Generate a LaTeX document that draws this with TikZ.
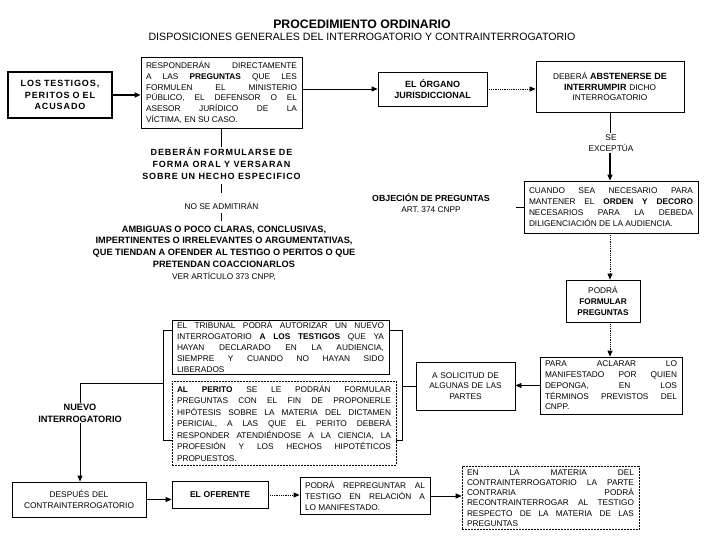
\documentclass[tikz,border=0pt]{standalone}
\usepackage{fontspec}
\setmainfont{Liberation Sans}
\newfontfamily\lsfont[LetterSpace=10]{Liberation Sans}
\usetikzlibrary{arrows.meta}
\newcommand{\hb}[1]{{\fontsize{9}{10.8}\selectfont\bfseries #1}}
\begin{document}
\begin{tikzpicture}[x=1pt,y=-1pt,
  bx/.style={draw, line width=0.8pt, inner xsep=5pt, inner ysep=1pt, font=\fontsize{8.3}{10.8}\selectfont},
  jst/.style={align=justify, execute at begin node={\spaceskip=2.3pt plus 60pt\xspaceskip=\spaceskip\tolerance=10000\hbadness=10000\hyphenpenalty=10000}},
  ctr/.style={align=center},
  dbx/.style={bx, dash pattern=on 2pt off 1pt, line width=0.6pt},
  arr/.style={-{Triangle[length=6pt,width=5pt]}, line width=0.8pt},
  darr/.style={arr, densely dotted},
  ln/.style={line width=0.8pt},
  txt/.style={inner sep=1pt, align=center, font=\fontsize{8.3}{10.8}\selectfont}
]
\fill[white] (0,0) rectangle (720,540);
\useasboundingbox (0,0) rectangle (720,540);

% titles
\node[txt, font=\fontsize{12.3}{14}\selectfont\bfseries] (title) at (362,24) {PROCEDIMIENTO ORDINARIO};
\node[txt, font=\fontsize{10.6}{12}\selectfont] (sub) at (362,37) {DISPOSICIONES GENERALES DEL INTERROGATORIO Y CONTRAINTERROGATORIO};

% top row
\node[bx, ctr, line width=1.1pt, text width=94pt, minimum height=46pt, font=\lsfont\bfseries\fontsize{9}{11.5}\selectfont] (A) at (60,95) {LOS TESTIGOS,\\PERITOS O EL\\ACUSADO};
\node[bx, jst, text width=151pt, minimum height=71pt] (B) at (221.5,92.5) {RESPONDERÁN DIRECTAMENTE\linebreak A LAS \textbf{PREGUNTAS} QUE LES\linebreak FORMULEN EL MINISTERIO\linebreak PÚBLICO, EL DEFENSOR O EL\linebreak ASESOR JURÍDICO DE LA\linebreak VÍCTIMA, EN SU CASO.};
\node[bx, ctr, text width=99pt, minimum height=34pt, font=\bfseries\fontsize{9}{11.5}\selectfont] (C) at (432.5,89) {EL ÓRGANO\\JURISDICCIONAL};
\node[bx, ctr, text width=138pt, minimum height=51pt] (D) at (610,86.5) {DEBERÁ \hb{ABSTENERSE DE}\\\hb{INTERRUMPIR} DICHO\\INTERROGATORIO};

% right column
\node[txt] (se) at (611,143) {SE\\EXCEPTÚA};
\node[bx, jst, text width=164pt, minimum height=52pt] (E) at (611,207) {CUANDO SEA NECESARIO PARA\linebreak MANTENER EL \textbf{ORDEN Y DECORO}\linebreak NECESARIOS PARA LA DEBEDA\linebreak DILIGENCIACIÓN DE LA AUDIENCIA.};
\node[txt] (obj) at (431,203) {{\bfseries\fontsize{8.8}{10.8}\selectfont OBJECIÓN DE PREGUNTAS}\\ART. 374 CNPP};
\node[bx, ctr, text width=64pt, minimum height=42pt] (F) at (603,301) {PODRÁ\\\textbf{FORMULAR}\\\textbf{PREGUNTAS}};
\node[bx, jst, text width=132pt, minimum height=57pt] (G) at (611,385.5) {PARA ACLARAR LO\linebreak MANIFESTADO POR QUIEN\linebreak DEPONGA, EN LOS\linebreak TÉRMINOS PREVISTOS DEL\linebreak CNPP.};
\node[bx, ctr, text width=89pt, minimum height=48pt] (H) at (465.5,386) {A SOLICITUD DE\\ALGUNAS DE LAS\\PARTES};

% middle column texts
\node[txt, font=\lsfont\bfseries\fontsize{9}{12}\selectfont] (deb) at (221.5,164) {DEBERÁN FORMULARSE DE\\FORMA ORAL Y VERSARAN\\SOBRE UN HECHO ESPECIFICO};
\node[txt] (nose) at (221.5,206) {NO SE ADMITIRÁN};
\node[txt, font=\bfseries\fontsize{9.2}{11.8}\selectfont] (amb) at (224,253) {AMBIGUAS O POCO CLARAS, CONCLUSIVAS,\\IMPERTINENTES O IRRELEVANTES O ARGUMENTATIVAS,\\QUE TIENDAN A OFENDER AL TESTIGO O PERITOS O QUE\\PRETENDAN COACCIONARLOS\\{\mdseries\fontsize{8.3}{10.8}\selectfont VER ARTÍCULO 373 CNPP,}};

% bracketed boxes
\node[bx, jst, text width=207pt, minimum height=54pt] (I) at (280.5,347) {EL TRIBUNAL PODRÁ AUTORIZAR UN NUEVO\linebreak INTERROGATORIO \textbf{A LOS TESTIGOS} QUE YA\linebreak HAYAN DECLARADO EN LA AUDIENCIA,\linebreak SIEMPRE Y CUANDO NO HAYAN SIDO\linebreak LIBERADOS};
\node[dbx, jst, text width=214pt, minimum height=84pt, font=\fontsize{8.3}{11.5}\selectfont] (J) at (284,423) {\textbf{AL PERITO} SE LE PODRÁN FORMULAR\linebreak PREGUNTAS CON EL FIN DE PROPONERLE\linebreak HIPÓTESIS SOBRE LA MATERIA DEL DICTAMEN\linebreak PERICIAL, A LAS QUE EL PERITO DEBERÁ\linebreak RESPONDER ATENDIÉNDOSE A LA CIENCIA, LA\linebreak PROFESIÓN Y LOS HECHOS HIPOTÉTICOS\linebreak PROPUESTOS.};

\node[txt, font=\bfseries\fontsize{9.2}{12}\selectfont] (nv) at (80,413) {NUEVO\\INTERROGATORIO};

% bottom row
\node[bx, ctr, text width=124pt, minimum height=35pt] (K) at (79,499.5) {DESPUÉS DEL\\CONTRAINTERROGATORIO};
\node[bx, ctr, text width=86pt, minimum height=27pt, font=\bfseries\fontsize{8.5}{10}\selectfont] (L) at (220,495) {EL OFERENTE};
\node[bx, jst, text width=120pt, minimum height=37pt] (M) at (365,496) {PODRÁ REPREGUNTAR AL\linebreak TESTIGO EN RELACIÓN A\linebreak LO MANIFESTADO.};
\node[dbx, jst, text width=167pt, minimum height=63pt, font=\fontsize{8.3}{10.3}\selectfont] (N) at (550.5,498) {EN LA MATERIA DEL\linebreak CONTRAINTERROGATORIO LA PARTE\linebreak CONTRARIA PODRÁ\linebreak RECONTRAINTERROGAR AL TESTIGO\linebreak RESPECTO DE LA MATERIA DE LAS\linebreak PREGUNTAS};

% connectors
\draw[arr, line width=1.3pt] (A.east) -- (A.east -| B.west);
\draw[arr] (B.east |- C.west) -- (C.west);
\draw[darr] (C.east) -- (C.east -| D.west);
\draw[ln] (D.south) -- (D.south |- se.north);
\draw[arr, line width=1.2pt] (se.south -| D.south) -- (E.north -| D.south);
\coordinate (oc) at (516,207);
\draw[ln] (oc) -- (E.west);
\draw[darr] (E.south -| D.south) -- (F.north -| D.south);
\draw[darr] (F.south -| D.south) -- (G.north -| D.south);
\draw[arr] (G.west) -- (G.west -| H.east);

\draw[ln] (B.south) -- (B.south |- deb.north);
\draw[ln, shorten <=3pt, shorten >=8pt] (B.south |- deb.south) -- (B.south |- nose.north);
\draw[ln, shorten <=2pt, shorten >=3pt] (B.south |- nose.south) -- (B.south |- amb.north);

\coordinate (rt) at (402,330);
\coordinate (rb) at (402,440);
\draw[ln] (I.east |- rt) -- (rt) -- (rb) -- (J.east |- rb);
\draw[ln] (H.west) -- (H.west -| rt);
\coordinate (lt) at (163,330);
\coordinate (lb) at (163,440);
\coordinate (lm) at (163,383);
\coordinate (nc) at (80,383);
\draw[ln] (I.west |- lt) -- (lt) -- (lb) -- (J.west |- lb);
\draw[ln] (lm) -- (nc) -- (nv.north);
\draw[arr] (nv.south) -- (nv.south |- K.north);
\draw[arr] (K.east) -- (K.east -| L.west);
\draw[darr] (L.east) -- (L.east -| M.west);
\draw[arr] (M.east) -- (M.east -| N.west);
\end{tikzpicture}
\end{document}
